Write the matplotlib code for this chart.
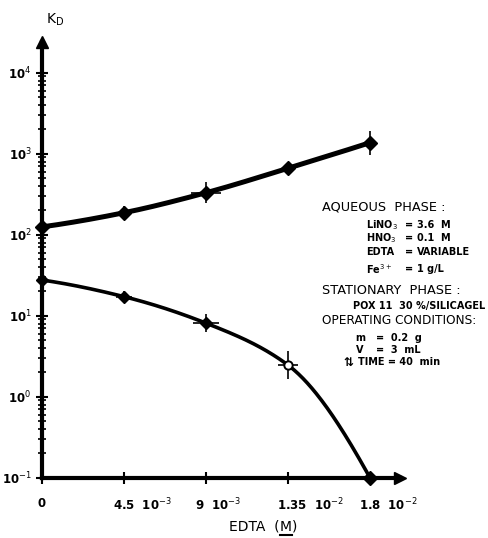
import numpy as np
import matplotlib
matplotlib.use("Agg")
import matplotlib.pyplot as plt
from matplotlib.ticker import LogLocator, NullFormatter, FixedLocator
from matplotlib.transforms import ScaledTranslation
from matplotlib.lines import Line2D

# ---- data ----
edta = [0.0, 4.5e-3, 9e-3, 1.35e-2, 1.8e-2]
kd_upper = [125, 187, 330, 661, 1370]
kd_lower = [27.6, 17.2, 8.1, 2.46, 0.1]
upper_yerr_dec = [0.0, 0.08, 0.13, 0.08, 0.15]   # half-width, decades
upper_xerr = [0.0, 0.3e-3, 0.8e-3, 0.3e-3, 0.35e-3]
lower_yerr_dec = [0.0, 0.07, 0.11, 0.17, 0.0]
lower_xerr = [0.0, 0.45e-3, 0.7e-3, 0.55e-3, 0.0]
xtick_vals = [0.0, 4.5e-3, 9e-3, 1.35e-2, 1.8e-2]
xtick_labels = ["0", "4.5  10$^{-3}$", "9  10$^{-3}$", "1.35  10$^{-2}$", "1.8  10$^{-2}$"]
ytick_vals = [1e-1, 1e0, 1e1, 1e2, 1e3, 1e4]
ytick_labels = ["10$^{-1}$", "10$^{0}$", "10$^{1}$", "10$^{2}$", "10$^{3}$", "10$^{4}$"]


def pchip(x, y, xs):
    x = np.asarray(x, float); y = np.asarray(y, float)
    h = np.diff(x); d = np.diff(y) / h
    n = len(x); m = np.zeros(n)
    for k in range(1, n - 1):
        if d[k - 1] * d[k] > 0:
            w1 = 2 * h[k] + h[k - 1]; w2 = h[k] + 2 * h[k - 1]
            m[k] = (w1 + w2) / (w1 / d[k - 1] + w2 / d[k])
    def end(h0, h1, d0, d1):
        v = ((2 * h0 + h1) * d0 - h0 * d1) / (h0 + h1)
        if np.sign(v) != np.sign(d0):
            v = 0
        elif np.sign(d0) != np.sign(d1) and abs(v) > abs(3 * d0):
            v = 3 * d0
        return v
    m[0] = end(h[0], h[1], d[0], d[1])
    m[-1] = end(h[-1], h[-2], d[-1], d[-2])
    out = np.empty_like(xs)
    for i, xv in enumerate(xs):
        k = min(np.searchsorted(x, xv, side="right") - 1, n - 2)
        k = max(k, 0)
        t = (xv - x[k]) / h[k]
        h00 = 2 * t**3 - 3 * t**2 + 1; h10 = t**3 - 2 * t**2 + t
        h01 = -2 * t**3 + 3 * t**2; h11 = t**3 - t**2
        out[i] = h00 * y[k] + h10 * h[k] * m[k] + h01 * y[k + 1] + h11 * h[k] * m[k + 1]
    return out


W, H = 488, 538
fig = plt.figure(figsize=(W / 100, H / 100), dpi=100)
x0px, x1px = 42, 400
ybot, ytop = 477.7, 42
ax = fig.add_axes([x0px / W, (H - ybot) / H, (x1px - x0px) / W, (ybot - ytop) / H])
ax.set_yscale("log")
ax.set_xlim(0, 0.01965)
ax.set_ylim(0.1, 10 ** 4.38)

for s in ["top", "right"]:
    ax.spines[s].set_visible(False)
for s in ["left", "bottom"]:
    ax.spines[s].set_linewidth(3)
ax.plot([0], [1], marker="^", ms=9, color="black", transform=ax.transAxes, clip_on=False)
ax.plot([1], [0], marker=">", ms=9, color="black", transform=ax.transAxes, clip_on=False)

# curves
xs = np.linspace(edta[0], edta[-1], 300)
up_curve = 10 ** pchip(edta, np.log10(kd_upper), xs)
lo_curve = 10 ** pchip(edta, np.log10(kd_lower), xs)
ax.plot(xs, up_curve, color="black", lw=3.6, solid_capstyle="round", clip_on=False)
ax.plot(xs, lo_curve, color="black", lw=2.6, solid_capstyle="round", clip_on=False)

# error bars
ku = np.array(kd_upper, float); du = np.array(upper_yerr_dec)
ax.errorbar(edta, ku, yerr=[ku - ku * 10 ** -du, ku * 10 ** du - ku], xerr=upper_xerr,
            fmt="D", ms=7, color="black", ecolor="black", elinewidth=1.2, capsize=0, clip_on=False)
kl = np.array(kd_lower, float); dl = np.array(lower_yerr_dec)
ax.errorbar(edta[:3], kl[:3], yerr=[kl[:3] - kl[:3] * 10 ** -dl[:3], kl[:3] * 10 ** dl[:3] - kl[:3]],
            xerr=lower_xerr[:3], fmt="D", ms=6, color="black", ecolor="black", elinewidth=1.2,
            capsize=0, clip_on=False)
ax.errorbar(edta[3:4], kl[3:4], yerr=[kl[3:4] - kl[3:4] * 10 ** -dl[3:4], kl[3:4] * 10 ** dl[3:4] - kl[3:4]],
            xerr=lower_xerr[3:4], fmt="o", ms=6, mfc="white", mec="black", mew=1.4, color="black",
            ecolor="black", elinewidth=1.2, capsize=0, clip_on=False)
ax.plot(edta[4:], kl[4:], "D", ms=7, color="black", clip_on=False)

# ticks
ax.yaxis.set_major_locator(FixedLocator(ytick_vals))
ax.set_yticklabels(ytick_labels, fontsize=8.5, fontweight="bold")
ax.yaxis.set_minor_locator(LogLocator(base=10, subs=np.arange(2, 10)))
ax.yaxis.set_minor_formatter(NullFormatter())
ax.tick_params(axis="y", which="major", direction="inout", length=9, width=1.5, pad=3)
ax.tick_params(axis="y", which="minor", direction="inout", length=6, width=1.2)
ax.set_xticks(xtick_vals)
ax.set_xticklabels(xtick_labels, fontsize=8.5, fontweight="bold")
ax.tick_params(axis="x", which="major", direction="inout", length=8, width=1.5, pad=10)
for i, lab in enumerate(ax.get_xticklabels()):
    if i > 0:
        lab.set_horizontalalignment("left")
        lab.set_transform(lab.get_transform() + ScaledTranslation(-11 / 100, 0, fig.dpi_scale_trans))

fig.text(46 / W, 1 - 20 / H, "K$_{\\mathrm{D}}$", fontsize=10, ha="left", va="center")

# x-axis title with underlined M
renderer = fig.canvas.get_renderer()
tx = fig.text(229 / W, 1 - 527 / H, "EDTA  (", fontsize=10, ha="left", va="center")
bb = tx.get_window_extent(renderer)
tm = fig.text(bb.x1 / W, 1 - 527 / H, "M", fontsize=10, ha="left", va="center")
bm = tm.get_window_extent(renderer)
fig.text(bm.x1 / W, 1 - 527 / H, ")", fontsize=10, ha="left", va="center")
fig.add_artist(Line2D([bm.x0 / W, bm.x1 / W], [(bm.y0 - 1) / H, (bm.y0 - 1) / H],
                      color="black", lw=1.5, transform=fig.transFigure))

# annotation block
big = dict(fontsize=9.3, ha="left", va="center")
small = dict(fontsize=7, ha="left", va="center", fontweight="bold")
def t(x, y, s, **kw):
    fig.text(x / W, 1 - y / H, s, **kw)
t(322, 207, "AQUEOUS  PHASE :", **big)
rows = [(225, "LiNO$_3$", "3.6  M"), (238, "HNO$_3$", "0.1  M"),
        (252, "EDTA", "VARIABLE"), (269, "Fe$^{3+}$", "1 g/L")]
for y, a, b in rows:
    t(366, y, a, **small)
    t(405, y, "=", **small)
    t(417, y, b, **small)
t(322, 291, "STATIONARY  PHASE :", **big)
t(353, 306, "POX 11  30 %/SILICAGEL", **small)
t(322, 321, "OPERATING CONDITIONS:", fontsize=8.7, ha="left", va="center")
t(355, 338, "m", **small); t(376, 338, "=  0.2  g", **small)
t(356, 350, "V", **small); t(376, 350, "=  3  mL", **small)
t(343, 362, "⇅", fontsize=8.5, ha="left", va="center", fontweight="bold")
t(358, 362, "TIME = 40  min", **small)

fig.savefig("out.png", dpi=100)
